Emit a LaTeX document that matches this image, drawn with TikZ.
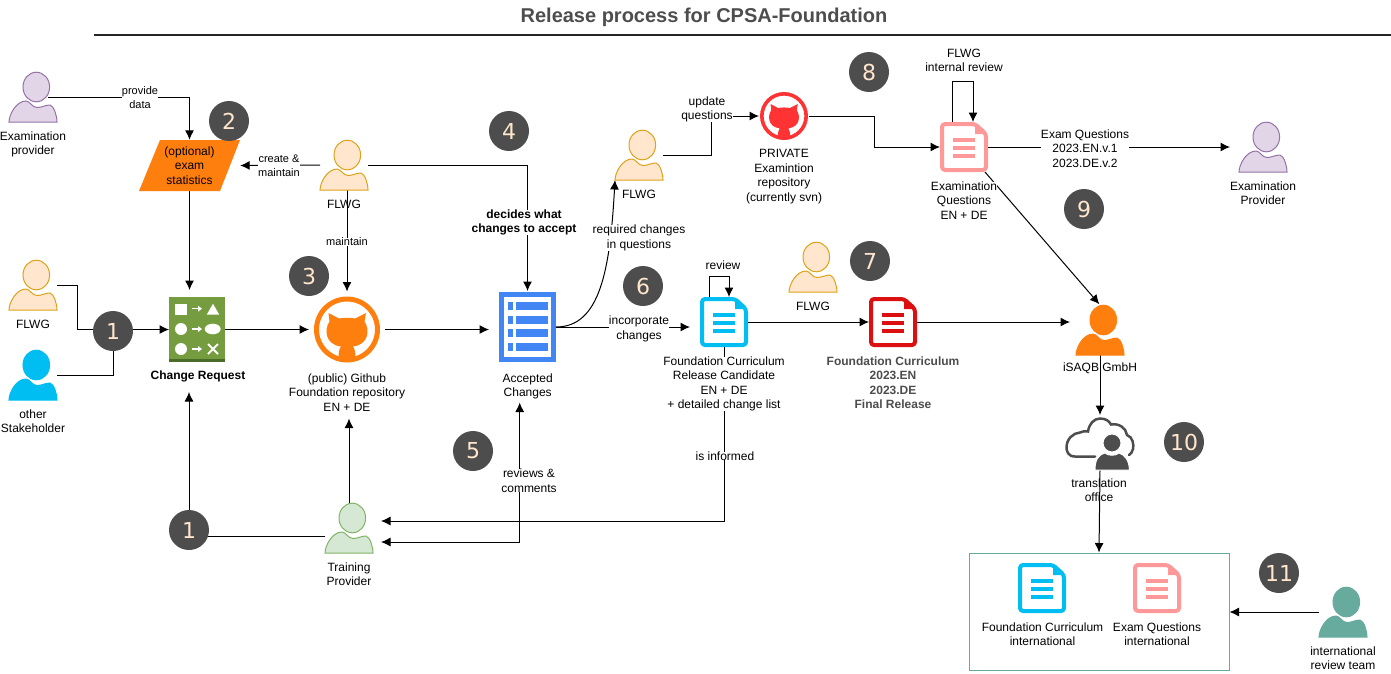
\documentclass[tikz,border=0pt]{standalone}
\usepackage{fontspec}
\setmainfont{Liberation Sans}
\newfontfamily\numfont{DejaVu Sans}
\usetikzlibrary{arrows.meta,backgrounds}

\definecolor{flwgfill}{HTML}{FFE6CC}
\definecolor{flwgline}{HTML}{DDA21A}
\definecolor{examfill}{HTML}{E1D5E7}
\definecolor{examline}{HTML}{9673A6}
\definecolor{trainfill}{HTML}{D5E8D4}
\definecolor{trainline}{HTML}{82B366}
\definecolor{stakeblue}{HTML}{00BEF2}
\definecolor{orangeicon}{HTML}{FF7F0E}
\definecolor{tealicon}{HTML}{67AB9F}
\definecolor{pinkicon}{HTML}{FF9999}
\definecolor{redicon}{HTML}{DC1010}
\definecolor{redgit}{HTML}{FF3333}
\definecolor{listblue}{HTML}{4285F4}
\definecolor{greenicon}{HTML}{759C3E}
\definecolor{greendark}{HTML}{4B6B28}
\definecolor{numdark}{HTML}{4D4D4D}

\tikzset{
  txt/.style={inner sep=0pt, align=center, font=\fontsize{12}{14.5}\selectfont},
  txtw/.style={txt, fill=white},
  small/.style={txt, fill=white, font=\fontsize{11}{14}\selectfont},
  boldtxt/.style={txtw, font=\fontsize{12}{14.5}\selectfont\bfseries},
  numdot/.style={circle, fill=numdark, text=flwgfill, minimum size=40pt, inner sep=0pt, font=\fontsize{22}{22}\selectfont\numfont},
  conn/.style={line width=1pt, -{Latex[length=9.5pt,width=9pt]}},
  both/.style={line width=1pt, {Latex[length=9.5pt,width=9pt]}-{Latex[length=9.5pt,width=9pt]}},
  icon/.style={inner sep=0pt, outer sep=0pt},
}

\newcommand{\actor}[5]{
  \node (#1) [icon, minimum width=48pt, minimum height=50pt] at (#2+24,#3+25) {};
  \begin{scope}[shift={(#2,#3)}]
    \filldraw[fill=#4, draw=#5, line width=1pt] (0,50) .. controls (0,43) and (7,29) .. (17,29)
      .. controls (21,29) and (23,35.5) .. (28,35.5) .. controls (33,35.5) and (36,33) .. (41,33)
      .. controls (45,34) and (48,44) .. (48,50) -- cycle;
    \filldraw[fill=#4, draw=#5, line width=1pt] (27.3,15) ellipse [x radius=13.3, y radius=14.8];
  \end{scope}
}

\newcommand{\docicon}[4]{
  \node (#1) [icon, minimum width=48pt, minimum height=50pt] at (#2+24,#3+25) {};
  \begin{scope}[shift={(#2,#3)}]
    \draw[#4, line width=4pt, rounded corners=3pt, line join=round] (2,2) -- (35,2) -- (46,12) -- (46,48) -- (2,48) -- cycle;
    \fill[#4] (35,2) -- (46,12) -- (35,12) -- cycle;
    \fill[#4] (13,16) rectangle (35,20.3);
    \fill[#4] (13,24) rectangle (35,28.3);
    \fill[#4] (13,32) rectangle (35,36.3);
  \end{scope}
}

\newcommand{\gitcat}[6]{
  \node (#1) [icon, circle, minimum size=#4 pt] at (#2,#3) {};
  \begin{scope}[shift={(#2,#3)}, scale=#6]
    \draw[#5, line width=5pt*#6] (0,0) circle [radius=30.5];
    \fill[#5] (-18.5,-16.5) -- (-17.5,-8) .. controls (-23,0) and (-22,15) .. (-6,17)
      .. controls (-8,20) and (-9,24) .. (-8,30) -- (8,30) .. controls (9,24) and (8,20) .. (6,17)
      .. controls (22,15) and (23,0) .. (17.5,-8) -- (19,-16.5) -- (8,-11)
      .. controls (3,-12) and (-3,-12) .. (-8,-11) -- cycle;
  \end{scope}
}

\begin{document}
\begin{tikzpicture}[x=1pt,y=-1pt]
  \useasboundingbox (0,0) rectangle (1391,673);

  % title
  \node (title) [font=\fontsize{20}{22}\selectfont\bfseries, text=numdark, inner sep=0pt] at (704,17) {Release process for CPSA-Foundation};
  \coordinate (ruleL) at (94,35);
  \coordinate (ruleR) at (1391,35);
  \draw[line width=2pt, black!85] (ruleL) -- (ruleR);

  % people
  \actor{exprovL}{9}{72}{examfill}{examline}
  \actor{flwgL}{9}{260}{flwgfill}{flwgline}
  \actor{stake}{9}{350}{stakeblue}{stakeblue}
  \actor{flwgT}{320}{140}{flwgfill}{flwgline}
  \actor{training}{325}{503}{trainfill}{trainline}
  \actor{flwgM}{615}{130}{flwgfill}{flwgline}
  \actor{flwgR}{789}{242}{flwgfill}{flwgline}
  \actor{exprovR}{1239}{122}{examfill}{examline}
  \actor{isaqb}{1076}{305}{orangeicon}{orangeicon}
  \actor{intTeam}{1319}{587}{tealicon}{tealicon}

  \node (lblExprovL) [txt] at (33,144.5) {Examination\\provider};
  \node (lblFlwgL) [txt] at (33,324) {FLWG};
  \node (lblStake) [txt] at (33,421) {other\\Stakeholder};
  \node (lblFlwgT) [txt] at (344,204) {FLWG};
  \node (lblTraining) [txt] at (349,574) {Training\\Provider};
  \node (lblFlwgM) [txt] at (639,194) {FLWG};
  \node (lblFlwgR) [txt] at (813,306) {FLWG};
  \node (lblExprovR) [txt] at (1263,193) {Examination\\Provider};
  \node (lblIsaqb) [txt] at (1100,368) {iSAQB GmbH};
  \node (lblIntTeam) [txt] at (1343,658) {international\\review team};

  % exam statistics
  \fill[orangeicon] (160,140) -- (240,140) -- (220,191) -- (139,191) -- cycle;
  \node (stats) [txt, minimum width=101pt, minimum height=51pt] at (189.5,165.5) {(optional)\\exam\\statistics};

  % change request
  \node (change) [icon, minimum width=56pt, minimum height=65pt] at (197,329.5) {};
  \begin{scope}[shift={(169,297)}]
    \fill[greenicon] (0,0) rectangle (56,62);
    \fill[greendark] (0,62) rectangle (56,65);
    \fill[white] (6,6.7) rectangle (17.7,17.7);
    \fill[white] (37.7,17.7) -- (44,6.7) -- (50.3,17.7) -- cycle;
    \fill[white] (12,32) circle [radius=6];
    \fill[white] (43.7,32) ellipse [x radius=8, y radius=5.3];
    \fill[white] (12,52) circle [radius=6];
    \draw[white, line width=1.8pt] (39,47) -- (49,57) (39,57) -- (49,47);
    \foreach \yy in {11.7,32,52} {
      \draw[white, line width=1.5pt] (22.7,\yy) -- (30,\yy);
      \fill[white] (29,\yy-3) -- (33,\yy) -- (29,\yy+3) -- cycle;
    }
  \end{scope}
  \node (lblChange) [boldtxt] at (198,376) {Change Request};
  \coordinate (changeIn) at (189,392);

  % repositories
  \gitcat{gitPub}{347}{329.5}{76}{orangeicon}{1}
  \node (lblGit) [txtw] at (347,392.5) {(public) Github\\Foundation repository\\EN + DE};
  \gitcat{gitExam}{784}{116}{50}{redgit}{0.727}
  \node (lblGitExam) [txt] at (784,176.5) {PRIVATE\\Examintion\\repository\\(currently svn)};

  % accepted changes
  \node (accepted) [icon, minimum width=57pt, minimum height=70pt] at (527.5,327) {};
  \begin{scope}[shift={(499,292)}]
    \fill[listblue] (0,0) rectangle (57,70);
    \fill[white] (5,5) rectangle (52,65);
    \foreach \yy in {9.5,23.5,37,51} {
      \fill[listblue] (9,\yy) rectangle (13.5,\yy+8);
      \fill[listblue] (17,\yy) rectangle (49,\yy+8);
    }
  \end{scope}
  \node (lblAccepted) [txt] at (527.7,386.5) {Accepted\\Changes};

  % documents
  \docicon{candidate}{700}{297}{stakeblue}
  \node (lblCandidate) [txtw] at (724,384) {Foundation Curriculum\\Release Candidate\\EN + DE\\+ detailed change list};
  \docicon{finalDoc}{869}{297}{redicon}
  \node (lblFinal) [boldtxt, text=numdark] at (893,382.5) {Foundation Curriculum\\2023.EN\\2023.DE\\Final Release};
  \docicon{examDoc}{940}{122}{pinkicon}
  \node (lblExamDoc) [txtw] at (964,200.5) {Examination\\Questions\\EN + DE};

  % translation office
  \node (cloud) [icon, minimum width=68pt, minimum height=54pt] at (1100,443) {};
  \draw[numdark, line width=2.5pt, line cap=round] (1095,456.5) -- (1075,456.5)
    .. controls (1068,456.5) and (1066.5,451) .. (1066.5,447.5)
    .. controls (1066.5,439) and (1073,433) .. (1080,432.5)
    .. controls (1083,431) and (1085,431) .. (1088,431.5)
    .. controls (1089,424) and (1094,418.5) .. (1100,418.5)
    .. controls (1106,418.5) and (1109,421) .. (1111,424.5)
    .. controls (1119,423) and (1126,428) .. (1127,435)
    .. controls (1133,437) and (1134,445) .. (1133,449)
    .. controls (1132,452) and (1131,454) .. (1129,455);
  \filldraw[fill=numdark, draw=white, line width=1pt] (1095,470) .. controls (1095,460) and (1098,455) .. (1105,453)
    .. controls (1108,456) and (1116,456) .. (1119,453) .. controls (1125,455) and (1129,460) .. (1129.5,470) -- cycle;
  \filldraw[fill=numdark, draw=white, line width=1pt] (1112,443) circle [radius=9];
  \node (lblCloud) [txt] at (1099,490) {translation\\office};

  % international release
  \node (intBox) [draw=tealicon, line width=1pt, minimum width=260pt, minimum height=117pt, inner sep=0pt] at (1099,611.5) {};
  \docicon{intCurr}{1018}{563}{stakeblue}
  \docicon{intExam}{1133}{563}{pinkicon}
  \node (lblIntCurr) [txt] at (1042.5,634) {Foundation Curriculum\\international};
  \node (lblIntExam) [txt] at (1157,634) {Exam Questions\\international};

  % connector labels
  \node (lblProvide) [small] at (140,98) {provide\\data};
  \node (lblCreate) [small] at (279,166) {create \&\\maintain};
  \node (lblMaintain) [small] at (347,242) {maintain};
  \node (lblDecides) [boldtxt] at (524,222.5) {decides what\\changes to accept};
  \node (lblRequired) [txtw] at (639,238) {required changes\\in questions};
  \node (lblUpdate) [txtw] at (707,109.5) {update\\questions};
  \node (lblIncorp) [txtw] at (639,329) {incorporate\\changes};
  \node (lblReview) [txtw] at (723,265) {review};
  \node (lblInternal) [txtw] at (964,60.5) {FLWG\\internal review};
  \node (lblQuestions) [txtw] at (1085,148.5) {Exam Questions\\2023.EN.v.1\\2023.DE.v.2};
  \node (lblInformed) [txtw] at (725,456) {is informed};
  \node (lblReviews) [txtw] at (529,480.5) {reviews \&\\comments};

  % step numbers
  \node (numA) [numdot] at (113,331) {1};
  \node (numB) [numdot] at (229,121) {2};
  \node (numC) [numdot] at (309,276) {3};
  \node (numD) [numdot] at (509,131) {4};
  \node (numE) [numdot] at (473,451) {5};
  \node (numF) [numdot] at (643,286) {6};
  \node (numG) [numdot] at (870,261) {7};
  \node (numH) [numdot] at (869,72) {8};
  \node (numI) [numdot] at (1084,209) {9};
  \node (numJ) [numdot] at (1184,442) {10};
  \node (numK) [numdot] at (1279,573) {11};
  \node (numL) [numdot] at (189,530) {1};

  % connectors
  \begin{scope}[on background layer]
    \draw[conn] ([xshift=-9pt]exprovL.east) -| (stats.north);
    \draw[conn, shorten >=7pt] (stats.south) -- (stats.south |- change.north);
    \draw[conn] (flwgT.west) -- (stats.east);
    \draw[conn, shorten >=1pt] (flwgT.east) -| (accepted.north);
    \draw[conn] (flwgT.south -| gitPub.north) -- (gitPub.north);
    \draw[conn] (flwgL.east) -- ++(20,0) |- (change.west);
    \draw[line width=1pt] (stake.east) -| (numA.south);
    \draw[conn] (change.east) -- (gitPub.west);
    \draw[conn, shorten >=10pt] (gitPub.east) -- (gitPub.east -| accepted.west);
    \draw[conn] (accepted.east) .. controls (600,327) and (610,270) .. (flwgM.south west);
    \draw[conn, shorten >=10pt] (accepted.east) -- (accepted.east -| candidate.west);
    \draw[conn] (flwgM.east) -- ++(48,0) |- (gitExam.west);
    \draw[conn] (gitExam.east) -- ++(65,0) |- (examDoc.west);
    \draw[conn] ([xshift=-12pt]examDoc.north) -- ++(0,-41) -| ([xshift=9pt]examDoc.north);
    \draw[conn, shorten >=9pt] (examDoc.east) -- (exprovR.west);
    \draw[conn, shorten >=1pt] ([xshift=-3pt]examDoc.south east) -- (isaqb.north);
    \draw[conn] ([xshift=-15pt]candidate.north) -- ++(0,-21) -| ([xshift=5pt]candidate.north);
    \draw[conn] (candidate.east) -- (finalDoc.west);
    \draw[conn, shorten >=6pt] (finalDoc.east) -- (finalDoc.east -| isaqb.west);
    \draw[conn, shorten >=1pt] (isaqb.south) -- (cloud.north);
    \draw[conn] (cloud.south) -- (intBox.north);
    \draw[conn] (intTeam.west) -- (intTeam.west -| intBox.east);
    \draw[conn] (candidate.south) |- ([xshift=8pt,yshift=7pt]training.east);
    \draw[both, shorten >=3pt] ([xshift=8pt,yshift=-14pt]training.east) -| ([xshift=-8pt]lblAccepted.south);
    \draw[conn, shorten >=7pt] (training.north) -- (training.north |- lblGit.south);
    \draw[conn] ([yshift=-8pt]training.west) -| (changeIn);
  \end{scope}
\end{tikzpicture}
\end{document}
